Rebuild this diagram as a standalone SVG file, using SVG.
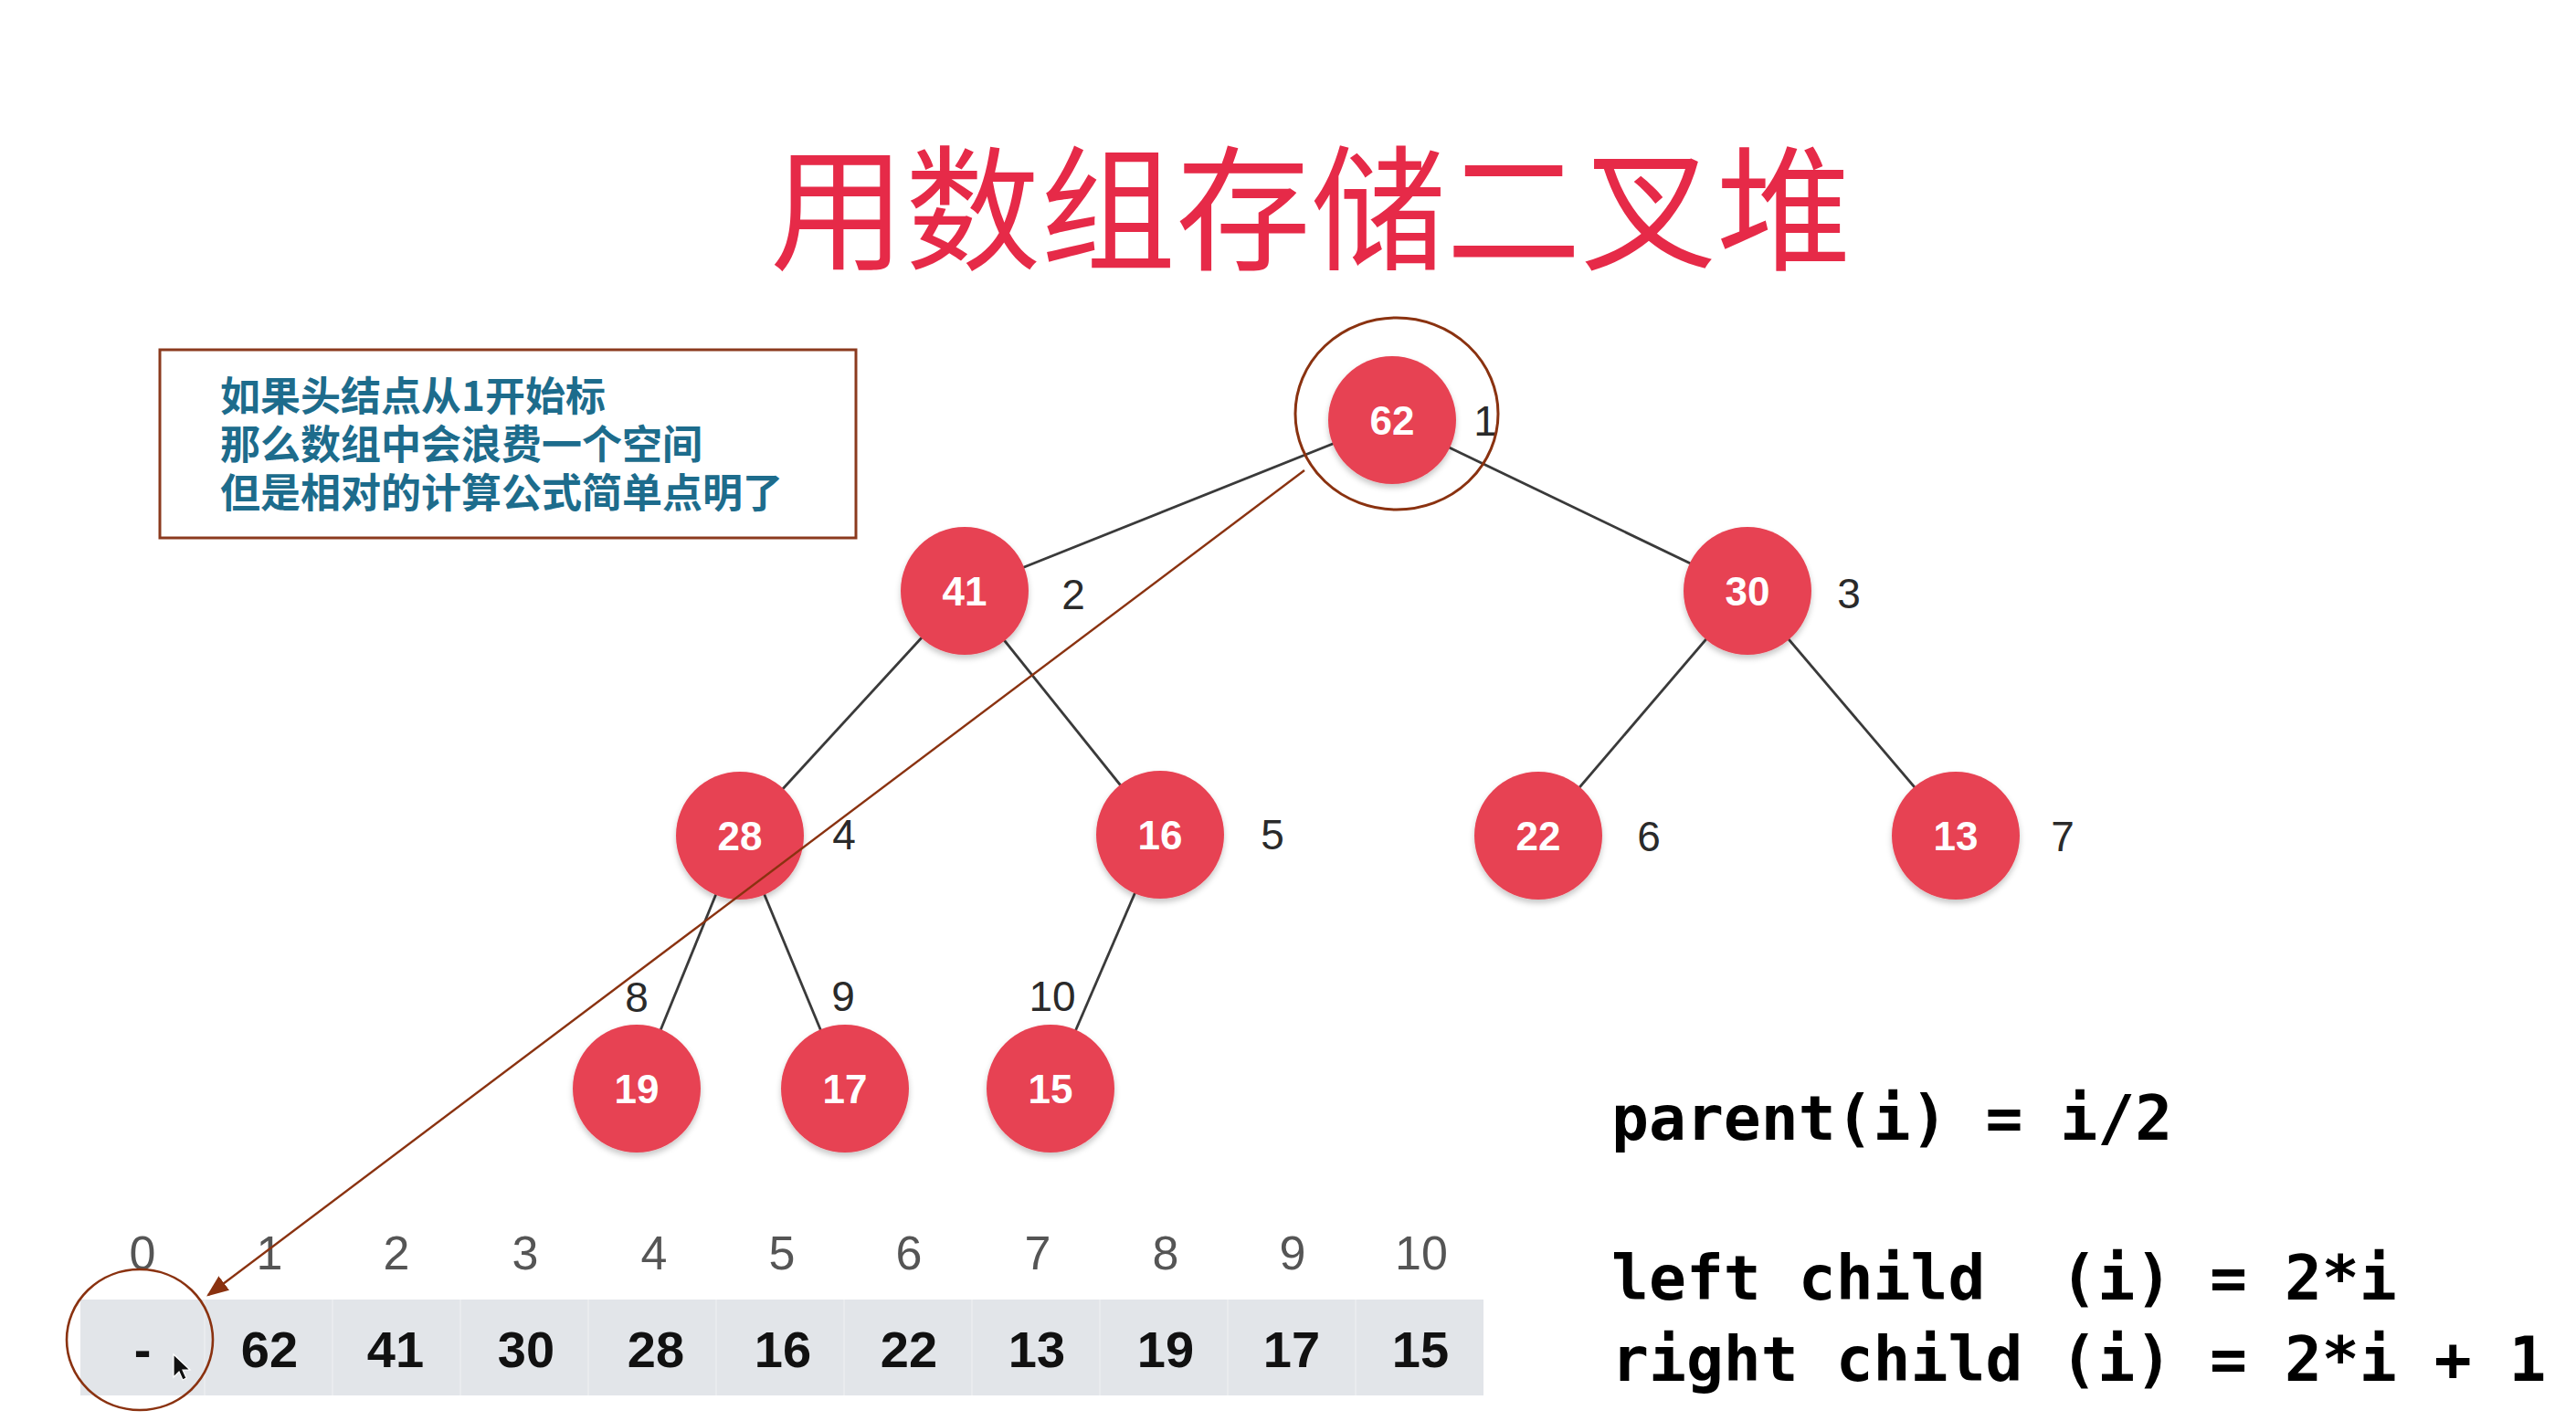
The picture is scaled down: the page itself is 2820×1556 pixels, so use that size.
<svg xmlns="http://www.w3.org/2000/svg" width="2820" height="1556" viewBox="0 0 2820 1556">
<style>
.title{font-family:"Noto Sans CJK SC","Noto Sans",sans-serif;font-size:148px;fill:#e62a48;}
.note{font-family:"Noto Sans CJK SC","Noto Sans",sans-serif;font-size:44px;font-weight:bold;fill:#1d6c8c;}
.node{fill:#e74352;}
.nt{font-family:"Liberation Sans",Arial,sans-serif;font-size:44px;font-weight:bold;fill:#ffffff;text-anchor:middle;}
.lbl{font-family:"Liberation Sans",Arial,sans-serif;font-size:46px;fill:#2a2a2a;text-anchor:middle;}
.edge{stroke:#3a3a3a;stroke-width:2.8;fill:none;}
.idx{font-family:"Liberation Sans",Arial,sans-serif;font-size:52px;fill:#555555;text-anchor:middle;}
.val{font-family:"Liberation Sans",Arial,sans-serif;font-size:56px;font-weight:bold;fill:#111111;text-anchor:middle;}
.div{stroke:#e9ebee;stroke-width:2;}
.brown{stroke:#8a3210;fill:none;}
.code{font-family:"DejaVu Sans Mono","Liberation Mono",monospace;font-size:68px;font-weight:bold;fill:#000000;white-space:pre;}
</style>
<defs>
<filter id="sh" x="-20%" y="-20%" width="140%" height="150%">
<feDropShadow dx="0" dy="4" stdDeviation="3" flood-color="#000" flood-opacity="0.22"/>
</filter>
<marker id="ah" markerWidth="10" markerHeight="8" refX="9" refY="4" orient="auto" markerUnits="strokeWidth">
<path d="M0,0 L10,4 L0,8 z" fill="#8a3210"/>
</marker>
</defs>
<rect x="0" y="0" width="2820" height="1556" fill="#ffffff"/>

<text id="title" class="title" x="1435" y="284" text-anchor="middle">用数组存储二叉堆</text>

<g id="note">
<rect x="175" y="383" width="762" height="206" fill="#ffffff" stroke="#8b3a1e" stroke-width="3"/>
<text class="note" x="241" y="450">如果头结点从1开始标</text>
<text class="note" x="241" y="503">那么数组中会浪费一个空间</text>
<text class="note" x="241" y="556">但是相对的计算公式简单点明了</text>
</g>

<g id="connectors">
<line class="edge" x1="1524" y1="460" x2="1056" y2="647"/>
<line class="edge" x1="1524" y1="460" x2="1913" y2="647"/>
<line class="edge" x1="1056" y1="647" x2="810" y2="915"/>
<line class="edge" x1="1056" y1="647" x2="1270" y2="914"/>
<line class="edge" x1="1913" y1="647" x2="1684" y2="915"/>
<line class="edge" x1="1913" y1="647" x2="2141" y2="915"/>
<line class="edge" x1="810" y1="915" x2="697" y2="1192"/>
<line class="edge" x1="810" y1="915" x2="925" y2="1192"/>
<line class="edge" x1="1270" y1="914" x2="1150" y2="1192"/>
</g>

<g id="n1"><circle class="node" cx="1524" cy="460" r="70" filter="url(#sh)"/><text class="nt" x="1524" y="476">62</text><text class="lbl" x="1626" y="477">1</text></g>
<g id="n2"><circle class="node" cx="1056" cy="647" r="70" filter="url(#sh)"/><text class="nt" x="1056" y="663">41</text><text class="lbl" x="1175" y="667">2</text></g>
<g id="n3"><circle class="node" cx="1913" cy="647" r="70" filter="url(#sh)"/><text class="nt" x="1913" y="663">30</text><text class="lbl" x="2024" y="666">3</text></g>
<g id="n4"><circle class="node" cx="810" cy="915" r="70" filter="url(#sh)"/><text class="nt" x="810" y="931">28</text><text class="lbl" x="924" y="930">4</text></g>
<g id="n5"><circle class="node" cx="1270" cy="914" r="70" filter="url(#sh)"/><text class="nt" x="1270" y="930">16</text><text class="lbl" x="1393" y="930">5</text></g>
<g id="n6"><circle class="node" cx="1684" cy="915" r="70" filter="url(#sh)"/><text class="nt" x="1684" y="931">22</text><text class="lbl" x="1805" y="932">6</text></g>
<g id="n7"><circle class="node" cx="2141" cy="915" r="70" filter="url(#sh)"/><text class="nt" x="2141" y="931">13</text><text class="lbl" x="2258" y="932">7</text></g>
<g id="n8"><circle class="node" cx="697" cy="1192" r="70" filter="url(#sh)"/><text class="nt" x="697" y="1208">19</text><text class="lbl" x="697" y="1108">8</text></g>
<g id="n9"><circle class="node" cx="925" cy="1192" r="70" filter="url(#sh)"/><text class="nt" x="925" y="1208">17</text><text class="lbl" x="923" y="1107">9</text></g>
<g id="n10"><circle class="node" cx="1150" cy="1192" r="70" filter="url(#sh)"/><text class="nt" x="1150" y="1208">15</text><text class="lbl" x="1152" y="1107">10</text></g>

<g id="array">
<rect x="88" y="1423" width="1536" height="105" fill="#e2e5e9"/>
<line class="div" x1="224" y1="1423" x2="224" y2="1528"/>
<line class="div" x1="364" y1="1423" x2="364" y2="1528"/>
<line class="div" x1="504" y1="1423" x2="504" y2="1528"/>
<line class="div" x1="644" y1="1423" x2="644" y2="1528"/>
<line class="div" x1="784" y1="1423" x2="784" y2="1528"/>
<line class="div" x1="924" y1="1423" x2="924" y2="1528"/>
<line class="div" x1="1064" y1="1423" x2="1064" y2="1528"/>
<line class="div" x1="1204" y1="1423" x2="1204" y2="1528"/>
<line class="div" x1="1344" y1="1423" x2="1344" y2="1528"/>
<line class="div" x1="1484" y1="1423" x2="1484" y2="1528"/>
<text class="idx" x="156" y="1390">0</text>
<text class="idx" x="295" y="1390">1</text>
<text class="idx" x="434" y="1390">2</text>
<text class="idx" x="575" y="1390">3</text>
<text class="idx" x="716" y="1390">4</text>
<text class="idx" x="856" y="1390">5</text>
<text class="idx" x="995" y="1390">6</text>
<text class="idx" x="1136" y="1390">7</text>
<text class="idx" x="1276" y="1390">8</text>
<text class="idx" x="1415" y="1390">9</text>
<text class="idx" x="1556" y="1390">10</text>
<text class="val" x="156" y="1497">-</text>
<text class="val" x="295" y="1497">62</text>
<text class="val" x="433" y="1497">41</text>
<text class="val" x="576" y="1497">30</text>
<text class="val" x="718" y="1497">28</text>
<text class="val" x="857" y="1497">16</text>
<text class="val" x="995" y="1497">22</text>
<text class="val" x="1135" y="1497">13</text>
<text class="val" x="1276" y="1497">19</text>
<text class="val" x="1414" y="1497">17</text>
<text class="val" x="1555" y="1497">15</text>
</g>

<g id="annotations">
<ellipse class="brown" cx="1529" cy="453" rx="111" ry="105" stroke-width="3"/>
<ellipse class="brown" cx="153" cy="1467" rx="80" ry="77" stroke-width="2.6"/>
<line class="brown" x1="1428" y1="515" x2="228" y2="1418" stroke-width="2.4" marker-end="url(#ah)"/>
<path d="M190,1483 L190,1508 L196,1502 L200,1511 L204,1509 L200,1500 L208,1500 Z" fill="#111111" stroke="#ffffff" stroke-width="1.2"/>
</g>

<g id="formulas">
<text class="code" x="1764" y="1248">parent(i) = i/2</text>
<text class="code" x="1764" y="1423">left child  (i) = 2*i</text>
<text class="code" x="1764" y="1512">right child (i) = 2*i + 1</text>
</g>
</svg>
